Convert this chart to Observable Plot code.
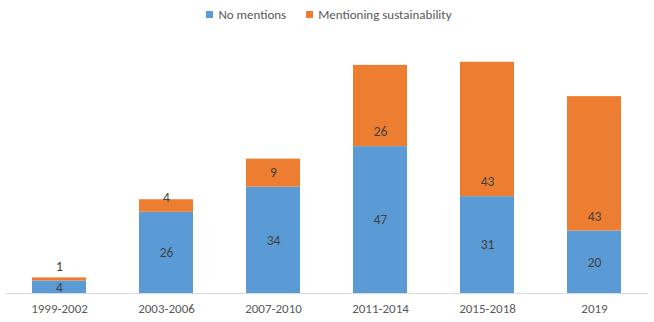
<!DOCTYPE html>
<html>
<head>
<meta charset="utf-8">
<script src="https://cdn.jsdelivr.net/npm/d3@7"></script>
<script src="https://cdn.jsdelivr.net/npm/@observablehq/plot@0.6"></script>
<style>
  html, body { margin: 0; padding: 0; background: #fff; }
  body { width: 654px; font-family: Carlito, Calibri, "Open Sans", sans-serif; }
  .legend { height: 28px; display: flex; justify-content: center; align-items: center; font-size: 13px; color: #595959; padding-left: 4px; box-sizing: border-box; }
  .legend .item { display: flex; align-items: center; }
  .legend .item + .item { margin-left: 20px; }
  .legend .sw { width: 7px; height: 7px; margin-right: 5px; }
</style>
</head>
<body>
<div id="chart"></div>
<script>
const periods = ["1999-2002", "2003-2006", "2007-2010", "2011-2014", "2015-2018", "2019"];
const noMentions = [4, 26, 34, 47, 31, 20];
const mentioningSustainability = [1, 4, 9, 26, 43, 43];
const seriesNames = ["No mentions", "Mentioning sustainability"];
const seriesColors = ["#5B9BD5", "#ED7D31"];

const rows = [];
periods.forEach((p, i) => {
  rows.push({period: p, series: seriesNames[0], value: noMentions[i], base: 0});
  rows.push({period: p, series: seriesNames[1], value: mentioningSustainability[i], base: noMentions[i]});
});
const blueRows = rows.filter(d => d.series === seriesNames[0]);
const orangeRows = rows.filter(d => d.series === seriesNames[1]);

const legend = document.createElement("div");
legend.className = "legend";
seriesNames.forEach((s, i) => {
  const it = document.createElement("div");
  it.className = "item";
  const sw = document.createElement("div");
  sw.className = "sw";
  sw.style.background = seriesColors[i];
  const tx = document.createElement("span");
  tx.textContent = s;
  it.appendChild(sw); it.appendChild(tx);
  legend.appendChild(it);
});

const fontFamily = "Carlito, Calibri, 'Open Sans', sans-serif";

const plot = Plot.plot({
  width: 654,
  height: 294,
  marginTop: 15,
  marginBottom: 29,
  marginLeft: 6,
  marginRight: 6,
  style: {fontFamily, background: "#fff"},
  x: {domain: periods, paddingInner: 0.495, paddingOuter: 0.2475, label: null},
  y: {domain: [0, 80], axis: null},
  color: {domain: seriesNames, range: seriesColors},
  marks: [
    Plot.barY(rows, {x: "period", y1: "base", y2: d => d.base + d.value, fill: "series"}),
    Plot.ruleY([0], {stroke: "#d9d9d9", strokeWidth: 1}),
    Plot.axisX({tickSize: 0, tickPadding: 10, fontSize: 13, fill: "#595959", label: null}),
    Plot.text(blueRows, {x: "period", y: d => d.value / 2, text: d => String(d.value), fill: "#404040", fontSize: 13.5}),
    Plot.text(orangeRows, {x: "period", y: "base", dy: -14.5, text: d => String(d.value), fill: "#404040", fontSize: 13.5})
  ]
});

const chart = document.getElementById("chart");
chart.appendChild(legend);
chart.appendChild(plot);
</script>
</body>
</html>
